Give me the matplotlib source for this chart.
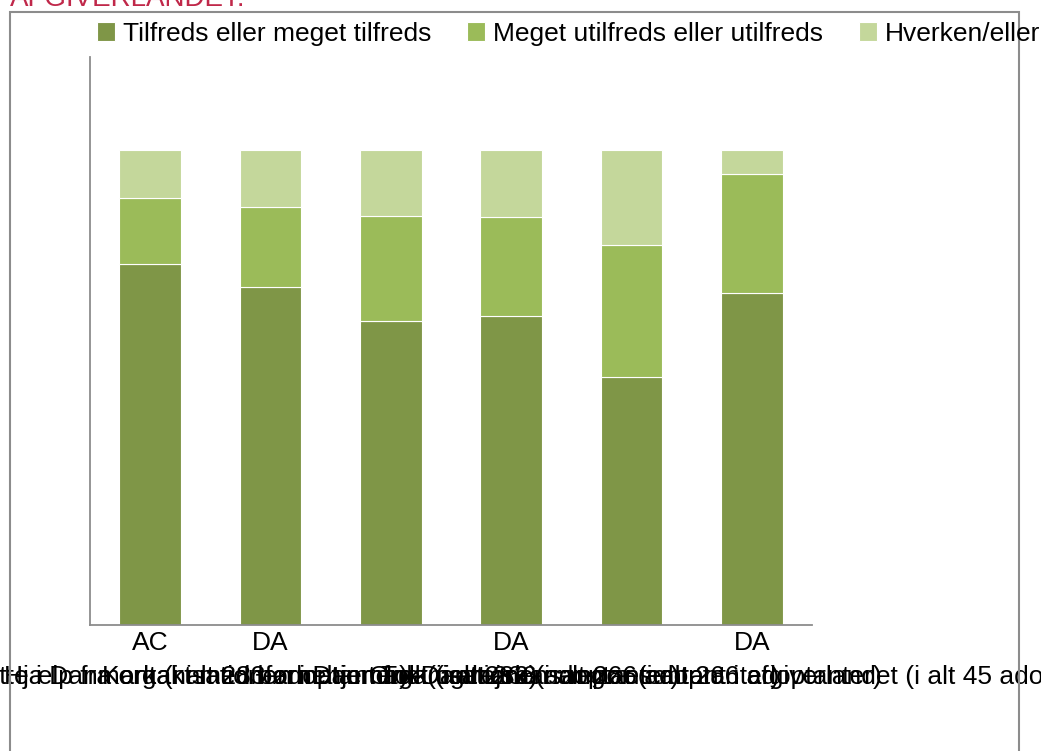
import matplotlib.pyplot as plt
import matplotlib.patches as mpatches
import numpy as np

plt.rcParams['font.family'] = ['Liberation Sans', 'DejaVu Sans']

# data (share of respondents per category)
groups = ['AC', 'DA', '', 'DA', '', 'DA']
sublabels = [
    'Lokal støtte i Danmark (i alt 283 adoptanter)',
    'Hjælp fra organisationen i Danmark (i alt 283)',
    'Kontakt med børnehjemmet (i alt 266 adoptanter)',
    'Information fra Danmark (i alt 266 adoptanter)',
    'Tolk og rejsearrangør (i alt 266 adoptanter)',
    'Organisationens repræsentant i afgiverlandet (i alt 45 adoptanter)',
]
tilfreds = [0.761, 0.712, 0.641, 0.650, 0.522, 0.700]
utilfreds = [0.139, 0.168, 0.220, 0.210, 0.279, 0.250]
hverken = [0.100, 0.120, 0.139, 0.140, 0.199, 0.050]

series_names = ['Tilfreds eller meget tilfreds',
                'Meget utilfreds eller utilfreds',
                'Hverken/eller']
colors = ['#7F9647', '#9BBB59', '#C4D79B']

W, H = 1041, 751
fig = plt.figure(figsize=(W / 100, H / 100), dpi=100)

# outer frame of the original slide object
frame = mpatches.Rectangle((10 / W, -0.05), (1019 - 10) / W, 1.05 - 12 / H,
                           transform=fig.transFigure, fill=False,
                           edgecolor='#8C8C8C', linewidth=1.5)
fig.patches.append(frame)

fig.text(10 / W, 1 - 6 / H, 'AFGIVERLANDET:', color='#C0284A',
         fontsize=20, va='baseline', ha='left')

ax = fig.add_axes([90 / W, (H - 625) / H, 722 / W, (625 - 57) / H])

x = np.arange(len(groups))
bottom = np.zeros(len(groups))
bars = []
for vals, name, c in zip([tilfreds, utilfreds, hverken], series_names, colors):
    b = ax.bar(x, vals, width=0.515, bottom=bottom, color=c,
               edgecolor='white', linewidth=0.8, label=name)
    bars.append(b)
    bottom += np.array(vals)

ax.set_xlim(-0.5, len(groups) - 0.5)
ax.set_ylim(0, 1.196)
ax.set_yticks([])
ax.set_xticks(x)
ax.set_xticklabels([g + '\n' + s for g, s in zip(groups, sublabels)],
                   fontsize=19, linespacing=1.55)
ax.tick_params(axis='x', length=0, pad=4)
for side in ['top', 'right']:
    ax.spines[side].set_visible(False)
for side in ['left', 'bottom']:
    ax.spines[side].set_color('#8C8C8C')
    ax.spines[side].set_linewidth(1.3)

fig.legend(handles=bars, labels=series_names, loc='upper left',
           bbox_to_anchor=(86 / W, 1 - 11 / H), ncol=3, frameon=False,
           fontsize=19, handlelength=0.7, handleheight=0.7,
           handletextpad=0.3, columnspacing=1.35, borderaxespad=0)

fig.savefig('out.png', dpi=100)
